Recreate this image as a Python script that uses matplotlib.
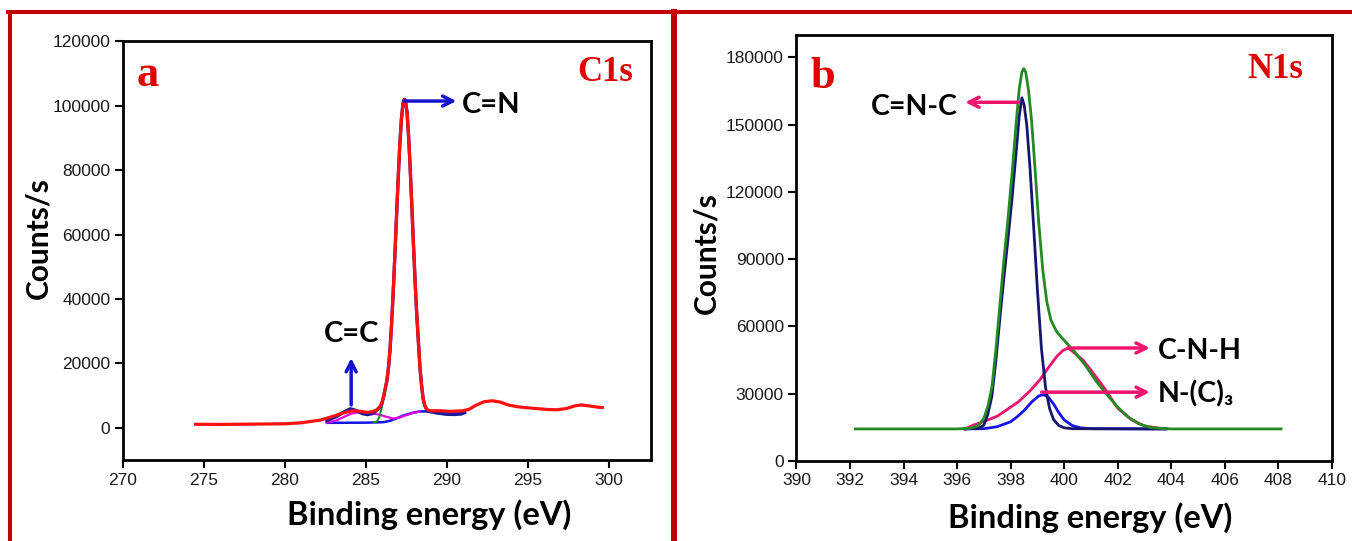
import matplotlib.pyplot as plt
from matplotlib.lines import Line2D

# ---- C1s panel (a) ----
# main C=N peak, shared by the raw trace, the envelope and the C=N component
c1s_peak_x = [286.3, 286.4, 286.5, 286.6, 286.7, 286.8, 286.9, 287.0, 287.1, 287.2,
              287.3, 287.38, 287.45, 287.55, 287.65, 287.75, 287.85, 287.95, 288.05,
              288.15, 288.25, 288.35, 288.45, 288.55, 288.65]
c1s_peak_y = [14500, 18500, 24400, 32700, 42600, 53800, 65600, 77300, 87700, 95800,
              100800, 102000, 101500, 98000, 90100, 79900, 68300, 56400, 45100,
              35100, 26700, 18500, 13000, 8800, 6800]

c1s_red_left_x = [274.5, 276, 278, 280, 281, 282.2, 283.0, 283.6, 284.1, 284.4, 284.8,
                  285.1, 285.4, 285.7, 285.9, 286.0, 286.1, 286.2]
c1s_red_left_y = [1100, 1050, 1150, 1250, 1550, 2400, 3600, 4600, 5200, 5300, 5000,
                  4800, 5000, 5600, 6800, 7800, 9800, 12200]
c1s_red_right_x = [288.8, 289.0, 289.6, 290.2, 291.0, 291.4, 291.8, 292.3, 292.8, 293.3,
                   293.8, 294.3, 294.8, 295.5, 296.2, 296.8, 297.4, 297.9, 298.3, 298.8,
                   299.2, 299.6]
c1s_red_right_y = [5600, 5300, 5300, 5100, 5300, 5800, 7000, 8100, 8400, 8000,
                   7100, 6600, 6300, 6000, 5700, 5600, 6000, 6800, 7100, 6800,
                   6500, 6300]

c1s_navy_left_x = [282.6, 283.2, 283.6, 284.05, 284.4, 284.8, 285.1, 285.4, 285.7, 285.9,
                   286.0, 286.1, 286.2]
c1s_navy_left_y = [2300, 3500, 4800, 5900, 5400, 4400, 4100, 4400, 5500, 6600,
                   7600, 9600, 12000]
c1s_navy_right_x = [288.8, 289.4, 290.0, 290.5, 290.9, 291.1]
c1s_navy_right_y = [5200, 4600, 4200, 4150, 4300, 4700]

c1s_cn_left_x = [285.5, 285.7, 285.85, 286.0, 286.15]
c1s_cn_left_y = [1700, 2000, 3500, 6500, 10500]
c1s_cn_right_x = [288.8, 289.0]
c1s_cn_right_y = [5200, 5100]

c1s_bg_x = [282.6, 285.0, 286.1, 286.5, 286.9, 287.3, 287.75, 288.1, 288.4, 291.1]
c1s_bg_y = [1550, 1600, 1750, 2200, 2900, 3800, 4470, 4900, 5100, 5100]

c1s_cc_x = [282.6, 283.2, 283.7, 284.1, 284.5, 285.0, 285.5, 285.9, 286.3, 286.7,
            287.1, 287.5, 287.9, 288.3]
c1s_cc_y = [1600, 2300, 3500, 4400, 4800, 4700, 4400, 4000, 3400, 2900,
            3200, 3950, 4600, 5000]

# ---- N1s panel (b) ----
n1s_env_x = [392.2, 396.0, 396.5, 396.8, 397.0, 397.15, 397.3, 397.45, 397.6, 397.75,
             397.9, 398.05, 398.2, 398.32, 398.42, 398.49, 398.56, 398.66, 398.78, 398.9,
             399.05, 399.2, 399.35, 399.5, 399.7, 399.87, 400.1, 400.4, 400.8, 401.2,
             401.6, 402.0, 402.4, 402.8, 403.2, 403.6, 404.0, 408.1]
n1s_env_y = [14300, 14300, 14600, 15800, 19000, 24500, 33000, 50000, 70000, 90000,
             108000, 128000, 150000, 166000, 173500, 175000, 173500, 166000, 152000, 132000,
             106000, 85000, 71000, 63000, 58000, 55500, 52500, 48500, 42500, 35500,
             29500, 24000, 19500, 16500, 15000, 14500, 14300, 14300]

n1s_cnc_x = [396.3, 396.8, 397.0, 397.15, 397.3, 397.45, 397.6, 397.75, 397.9, 398.05,
             398.2, 398.32, 398.42, 398.5, 398.6, 398.72, 398.85, 399.0, 399.15, 399.3,
             399.45, 399.6, 399.8, 400.0, 400.3, 403.8]
n1s_cnc_y = [14300, 14600, 16000, 21000, 29000, 45000, 64000, 82000, 99000, 117000,
             137000, 154000, 162000, 159000, 150000, 131000, 106000, 76000, 50000, 33000,
             23500, 18500, 15800, 14800, 14400, 14300]

n1s_nc3_x = [396.3, 397.0, 397.5, 398.0, 398.25, 398.5, 398.8, 399.05, 399.15, 399.22,
             399.3, 399.4, 399.6, 399.8, 400.0, 400.3, 400.6, 401.0, 403.8]
n1s_nc3_y = [14300, 14400, 15300, 17500, 19800, 22500, 26500, 29000, 29400, 29500,
             29200, 28500, 25500, 21500, 18300, 15800, 14800, 14400, 14300]

n1s_cnh_x = [396.3, 396.6, 397.0, 397.5, 397.85, 398.3, 398.7, 399.09, 399.4, 399.72,
             399.95, 400.15, 400.4, 400.7, 401.0, 401.5, 402.0, 402.5, 403.0, 403.5, 403.8]
n1s_cnh_y = [14300, 16000, 17600, 20000, 22800, 26500, 31000, 36200, 41500, 46600,
             49300, 50400, 48000, 45000, 40500, 32500, 23500, 18500, 15600, 14700, 14400]

label_font = 'Lato'
tick_font = 'Liberation Sans'
frame_red = '#C00000'


def style_axes(ax):
    for s in ax.spines.values():
        s.set_linewidth(2.0)
    ax.tick_params(direction='out', length=6, width=1.5, labelsize=12.5,
                   top=False, right=False, pad=3)
    for lab in ax.get_xticklabels() + ax.get_yticklabels():
        lab.set_fontfamily(tick_font)
        lab.set_color('#1a1a1a')


fig = plt.figure(figsize=(13.52, 5.41), dpi=100)

# panel a
ax1 = fig.add_axes([0.0908, 0.1497, 0.3906, 0.7736])
ax1.plot(c1s_bg_x, c1s_bg_y, color='#1414E6', lw=1.8)
ax1.plot(c1s_cc_x, c1s_cc_y, color='#E600E6', lw=1.6)
ax1.plot(c1s_cn_left_x + c1s_peak_x + c1s_cn_right_x,
         c1s_cn_left_y + c1s_peak_y + c1s_cn_right_y, color='#1E8C1E', lw=1.4)
ax1.plot(c1s_navy_left_x + c1s_peak_x + c1s_navy_right_x,
         c1s_navy_left_y + c1s_peak_y + c1s_navy_right_y, color='#1A1A9A', lw=2.4)
ax1.plot(c1s_red_left_x + c1s_peak_x + c1s_red_right_x,
         c1s_red_left_y + c1s_peak_y + c1s_red_right_y, color='#FF1010', lw=2.3)
ax1.set_xlim(270, 302.6)
ax1.set_ylim(-10000, 120000)
ax1.set_xticks(range(270, 301, 5))
ax1.set_yticks(range(0, 120001, 20000))
style_axes(ax1)

blue_arrow = dict(arrowstyle='->', color='#1414CC', lw=2.5, mutation_scale=18,
                  shrinkA=0, shrinkB=0)
ax1.annotate('', xy=(290.6, 101500), xytext=(287.35, 101500), arrowprops=blue_arrow)
ax1.text(290.95, 100300, 'C=N', fontsize=21, fontweight='bold', family=label_font,
         ha='left', va='center')
ax1.annotate('', xy=(284.1, 21700), xytext=(284.1, 7100), arrowprops=blue_arrow)
ax1.text(284.1, 29200, 'C=C', fontsize=21, fontweight='bold', family=label_font,
         ha='center', va='center')
ax1.text(0.047, 0.92, 'a', transform=ax1.transAxes, fontsize=32, fontweight='bold',
         family='Liberation Serif', color='#E00000', ha='center', va='center')
ax1.text(0.913, 0.927, 'C1s', transform=ax1.transAxes, fontsize=25, fontweight='bold',
         family='Liberation Serif', color='#E00000', ha='center', va='center')
ax1.text(0.58, -0.131, 'Binding energy (eV)', transform=ax1.transAxes, fontsize=23.5,
         fontweight='bold', family=label_font, ha='center', va='center')
ax1.text(-0.159, 0.53, 'Counts/s', transform=ax1.transAxes, fontsize=21.5,
         fontweight='bold', family=label_font, ha='center', va='center', rotation=90)

# panel b
ax2 = fig.add_axes([0.5891, 0.1479, 0.3961, 0.7874])
ax2.plot(n1s_nc3_x, n1s_nc3_y, color='#1414E6', lw=2.0)
ax2.plot(n1s_cnh_x, n1s_cnh_y, color='#F0146E', lw=2.0)
ax2.plot(n1s_cnc_x, n1s_cnc_y, color='#16166E', lw=2.0)
ax2.plot(n1s_env_x, n1s_env_y, color='#228B22', lw=2.0)
ax2.set_xlim(390, 410)
ax2.set_ylim(0, 190000)
ax2.set_xticks(range(390, 411, 2))
ax2.set_yticks(range(0, 180001, 30000))
style_axes(ax2)

pink_arrow = dict(arrowstyle='->', color='#F0146E', lw=2.5, mutation_scale=18,
                  shrinkA=0, shrinkB=0)
ax2.annotate('', xy=(396.3, 160000), xytext=(398.3, 160000), arrowprops=pink_arrow)
ax2.text(396.03, 158000, 'C=N-C', fontsize=20.5, fontweight='bold', family=label_font,
         ha='right', va='center')
ax2.annotate('', xy=(403.2, 50400), xytext=(400.15, 50400), arrowprops=pink_arrow)
ax2.text(403.5, 49200, 'C-N-H', fontsize=20.5, fontweight='bold', family=label_font,
         ha='left', va='center')
ax2.annotate('', xy=(403.2, 30700), xytext=(399.16, 30700), arrowprops=pink_arrow)
ax2.text(403.5, 30000, 'N-(C)\u2083', fontsize=20.5, fontweight='bold',
         family=[label_font, 'DejaVu Sans'], ha='left', va='center')
ax2.text(0.049, 0.901, 'b', transform=ax2.transAxes, fontsize=32, fontweight='bold',
         family='Liberation Serif', color='#E00000', ha='center', va='center')
ax2.text(0.895, 0.92, 'N1s', transform=ax2.transAxes, fontsize=25, fontweight='bold',
         family='Liberation Serif', color='#E00000', ha='center', va='center')
ax2.text(0.548, -0.134, 'Binding energy (eV)', transform=ax2.transAxes, fontsize=23.5,
         fontweight='bold', family=label_font, ha='center', va='center')
ax2.text(-0.168, 0.489, 'Counts/s', transform=ax2.transAxes, fontsize=21.5,
         fontweight='bold', family=label_font, ha='center', va='center', rotation=90)

# red frames round the panels
W, H = 1352.0, 541.0
fig.add_artist(Line2D([8 / W, 1.0], [1 - 12 / H, 1 - 12 / H], color=frame_red, lw=2.9))
fig.add_artist(Line2D([10 / W, 10 / W], [0, 1 - 12 / H], color=frame_red, lw=2.9))
fig.add_artist(Line2D([674 / W, 674 / W], [0, 1 - 12 / H], color=frame_red, lw=4.3))

fig.savefig('out.png', dpi=100)
